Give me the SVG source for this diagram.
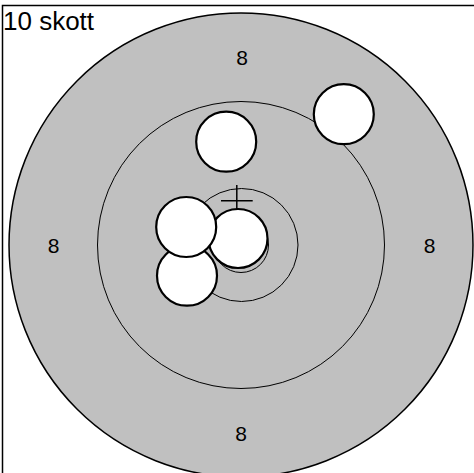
<svg xmlns="http://www.w3.org/2000/svg" width="474" height="473" viewBox="0 0 474 473">
<style>
.ring{fill:none;stroke:#000;stroke-width:1}
.hole{fill:#fff;stroke:#000;stroke-width:2.2}
.lbl{font-family:"Liberation Sans",Arial,sans-serif;font-size:21px;fill:#000;text-anchor:middle}
.title{font-family:"Liberation Sans",Arial,sans-serif;font-size:26px;fill:#000}
</style>
<rect x="0" y="0" width="474" height="473" fill="#fff"/>
<rect x="2.5" y="5.5" width="500" height="500" fill="none" stroke="#000" stroke-width="1.5"/>
<g id="target">
<circle cx="241" cy="245" r="232" fill="#c0c0c0" stroke="#000" stroke-width="1.5"/>
<circle class="ring" cx="241" cy="245" r="143.5"/>
<circle class="ring" cx="241.5" cy="245" r="56.5"/>
<circle class="ring" cx="241" cy="245" r="27.5"/>
</g>
<g id="labels">
<text class="lbl" x="242" y="65">8</text>
<text class="lbl" x="241" y="441">8</text>
<text class="lbl" x="53.5" y="253">8</text>
<text class="lbl" x="429.7" y="253">8</text>
</g>
<g id="title"><text class="title" x="3" y="29.5">10 skott</text></g>
<g id="cross"><path d="M236.8 185V215M221 200.7H252.7" stroke="#000" stroke-width="1.5" fill="none"/></g>
<g id="holes">
<circle id="hole1" class="hole" cx="343.8" cy="114.2" r="30"/>
<circle id="hole2" class="hole" cx="226.2" cy="141.7" r="30"/>
<circle id="hole3" class="hole" cx="238" cy="238.5" r="29.5"/>
<circle id="hole4" class="hole" cx="187" cy="275.7" r="30"/>
<circle id="hole5" class="hole" cx="186.2" cy="227" r="30"/>
</g>
</svg>
